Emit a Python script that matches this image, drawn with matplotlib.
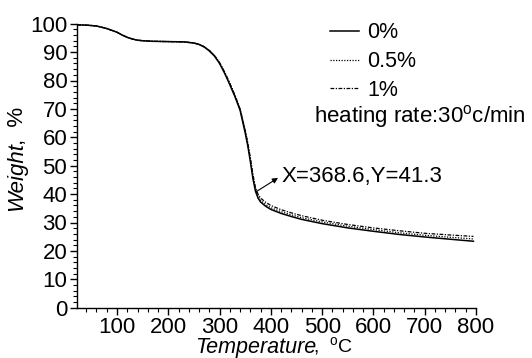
import matplotlib
matplotlib.use("Agg")
import matplotlib.pyplot as plt
from matplotlib.ticker import MultipleLocator

plt.rcParams['font.family'] = ['Liberation Sans', 'DejaVu Sans']
plt.rcParams['mathtext.fontset'] = 'custom'
plt.rcParams['mathtext.rm'] = 'Liberation Sans'

temperature = [22, 40, 60, 80, 100, 110, 120, 130, 140, 150, 170, 200, 230, 250, 260, 270, 280,
               290, 300, 310, 320, 330, 340, 350, 355, 360, 365, 370, 375, 380, 390, 400,
               420, 440, 460, 500, 550, 600, 650, 700, 750, 795]
weight_0 = [99.6, 99.5, 99.2, 98.3, 97.0, 96.0, 95.2, 94.6, 94.2, 94.0, 93.8, 93.7, 93.6, 93.2,
            92.7, 91.8, 90.4, 88.6, 86.0, 82.5, 78.5, 74.3, 69.5, 61.5, 57.0, 51.5, 45.5,
            41.0, 38.6, 37.2, 35.7, 34.6, 33.2, 32.1, 31.1, 29.6, 28.1, 26.9, 25.8, 24.9, 24.1, 23.4]
weight_05 = [99.6, 99.5, 99.2, 98.3, 97.0, 96.0, 95.2, 94.6, 94.2, 94.0, 93.8, 93.7, 93.6, 93.2,
             92.7, 91.9, 90.6, 88.8, 86.3, 82.9, 79.0, 74.8, 70.0, 62.3, 57.8, 52.3, 46.3,
             41.6, 39.2, 37.8, 36.3, 35.2, 33.8, 32.7, 31.7, 30.2, 28.7, 27.5, 26.4, 25.5, 24.8, 24.2]
weight_1 = [99.6, 99.5, 99.2, 98.3, 97.0, 96.0, 95.2, 94.6, 94.2, 94.0, 93.8, 93.7, 93.6, 93.2,
            92.7, 91.9, 90.6, 88.8, 86.3, 82.9, 79.0, 74.8, 70.0, 62.5, 58.0, 52.8, 47.0,
            42.3, 40.0, 38.6, 37.1, 36.0, 34.5, 33.4, 32.4, 30.8, 29.3, 28.1, 27.1, 26.2, 25.6, 25.1]
series_labels = ['0%', '0.5%', '1%']
x_ticks = [100, 200, 300, 400, 500, 600, 700, 800]
y_ticks = [0, 10, 20, 30, 40, 50, 60, 70, 80, 90, 100]

fig = plt.figure(figsize=(5.32, 3.58), dpi=100)
ax = fig.add_axes([77/532, 1-307.7/358, (476-77)/532, (307.7-23.7)/358])

l0, = ax.plot(temperature, weight_0, color='black', lw=1.1, ls='-')
l1, = ax.plot(temperature, weight_05, color='black', lw=0.9, ls=(0, (1, 1.2)))
l2, = ax.plot(temperature, weight_1, color='black', lw=0.9, ls=(0, (3, 1.2, 1, 1.2)))

ax.set_xlim(22, 800)
ax.set_ylim(0, 100)
ax.set_xticks(x_ticks)
ax.set_yticks(y_ticks)
ax.xaxis.set_minor_locator(MultipleLocator(20))
ax.yaxis.set_minor_locator(MultipleLocator(2))
ax.tick_params(which='major', direction='out', length=5, width=1, labelsize=16, pad=2)
ax.tick_params(which='minor', direction='out', length=3, width=0.8)
for s in ['top', 'right']:
    ax.spines[s].set_visible(False)
for s in ['left', 'bottom']:
    ax.spines[s].set_linewidth(1)

leg = ax.legend([l0, l1, l2], series_labels, loc='upper left', bbox_to_anchor=(0.612, 1.035),
                frameon=False, fontsize=15.5, handlelength=1.35, handletextpad=0.4,
                labelspacing=0.36, borderaxespad=0)
fig.text(314/532, 1-116/358, 'heating rate:30$^{\\rm o}$c/min', fontsize=16, va='center', ha='left')

ax.annotate('', xy=(414, 45.7), xytext=(371, 40.8),
            arrowprops=dict(arrowstyle='-|>', color='black', lw=0.8, mutation_scale=8,
                            shrinkA=0, shrinkB=0))
fig.text(282/532, 1-177/358, 'X=368.6,Y=41.3', fontsize=16, va='center', ha='left')

fig.text(316/532, 1-347/358, 'Temperature', fontsize=15.5, style='italic', ha='right', va='center')
fig.text(313/532, 1-347/358, ',  $^{\\rm o}$C', fontsize=14, ha='left', va='center')
fig.text(17/532, 1-142/358, 'Weight', fontsize=16, style='italic', rotation=90, ha='center', va='top')
fig.text(17/532, 1-145/358, ',  %', fontsize=16, rotation=90, ha='center', va='bottom')

fig.savefig('out.png', dpi=100)
